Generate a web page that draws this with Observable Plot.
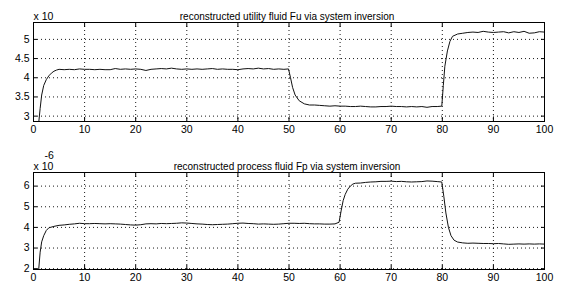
<!DOCTYPE html>
<html>
<head>
<meta charset="utf-8">
<script src="https://cdn.jsdelivr.net/npm/d3@7"></script>
<script src="https://cdn.jsdelivr.net/npm/@observablehq/plot@0.6"></script>
<style>
  html, body { margin: 0; padding: 0; background: #fff; }
  #chart { width: 564px; height: 291px; overflow: hidden; }
  #chart svg { display: block; }
</style>
</head>
<body>
<div id="chart"></div>
<script>
// ---- data ----
const xTicks = [0, 10, 20, 30, 40, 50, 60, 70, 80, 90, 100];

const fuTitle = "reconstructed utility fluid Fu via system inversion";
const fuTime = [1,1.3,1.6,2,2.5,3,3.5,4,4.5,5,6,7,8,9,10,11,12,13,14,15,16,17,18,19,20,21,22,23,24,25,26,27,28,29,30,31,32,33,34,35,36,37,38,39,40,41,42,43,44,45,46,47,48,49,49.9,50.3,50.7,51.2,52,53,54,55,56,57,58,59,60,61,62,63,64,65,66,67,68,69,70,71,72,73,74,75,76,77,78,79,79.9,80.2,80.5,81,81.5,82,83,84,85,86,87,88,89,90,91,92,93,94,95,96,97,98,99,100];
const fuValues = [2.8,3.2,3.55,3.8,3.95,4.05,4.12,4.17,4.2,4.22,4.21,4.22,4.21,4.23,4.22,4.22,4.21,4.22,4.21,4.21,4.24,4.22,4.23,4.22,4.23,4.22,4.19,4.22,4.23,4.24,4.23,4.25,4.23,4.22,4.23,4.22,4.23,4.22,4.23,4.24,4.22,4.23,4.22,4.22,4.21,4.23,4.24,4.23,4.25,4.23,4.24,4.22,4.23,4.22,4.23,4.0,3.75,3.55,3.4,3.32,3.29,3.29,3.28,3.27,3.26,3.27,3.26,3.26,3.25,3.25,3.26,3.25,3.24,3.24,3.25,3.25,3.26,3.25,3.25,3.24,3.25,3.24,3.25,3.23,3.25,3.25,3.26,3.8,4.3,4.7,4.95,5.08,5.14,5.16,5.18,5.19,5.18,5.21,5.19,5.18,5.19,5.2,5.17,5.2,5.18,5.21,5.16,5.17,5.2,5.19];
const fuYTicks = [3, 3.5, 4, 4.5, 5];
const fuYDomain = [2.86, 5.44];
const fuScaleLabel = "x 10";

const fpTitle = "reconstructed process fluid Fp via system inversion";
const fpTime = [1,1.3,1.6,2,2.5,3,4,5,6,7,8,9,10,11,12,13,14,15,16,17,18,19,20,21,22,23,24,25,26,27,28,29,30,31,32,33,34,35,36,37,38,39,40,41,42,43,44,45,46,47,48,49,50,51,52,53,54,55,56,57,58,59,59.8,60.2,60.6,61,61.5,62,62.5,63,64,65,66,67,68,69,70,71,72,73,74,75,76,77,78,79,79.9,80.3,80.7,81.2,81.7,82.3,83,84,85,86,87,88,89,90,91,92,93,94,95,96,97,98,99,100];
const fpValues = [1.9,2.8,3.3,3.6,3.85,3.98,4.05,4.1,4.12,4.15,4.17,4.2,4.18,4.18,4.19,4.18,4.17,4.18,4.17,4.16,4.14,4.12,4.11,4.13,4.17,4.18,4.17,4.19,4.18,4.19,4.2,4.22,4.21,4.19,4.17,4.16,4.14,4.13,4.14,4.15,4.16,4.18,4.2,4.21,4.19,4.18,4.16,4.17,4.16,4.15,4.16,4.18,4.2,4.2,4.19,4.2,4.18,4.17,4.17,4.16,4.16,4.17,4.25,4.8,5.3,5.6,5.85,6.0,6.1,6.14,6.15,6.18,6.2,6.21,6.23,6.23,6.24,6.22,6.23,6.21,6.2,6.21,6.22,6.25,6.24,6.22,6.2,5.5,4.7,4.0,3.6,3.38,3.29,3.25,3.23,3.24,3.23,3.22,3.22,3.21,3.22,3.2,3.18,3.19,3.2,3.19,3.2,3.19,3.2,3.19];
const fpYTicks = [2, 3, 4, 5, 6];
const fpYDomain = [1.96, 6.66];
const fpScaleLabel = "x 10";
const fpExponent = "-6";

// ---- drawing ----
const font = "'Liberation Sans', Arial, Helvetica, sans-serif";
const fmt = d => String(d);

function panel({time, values, yTicks, yDomain, title, scaleLabel, exponent, height, marginTop, marginBottom}) {
  const data = time.map((t, i) => ({t, v: values[i]}));
  const marks = [
    Plot.gridX(xTicks, {stroke: "#000", strokeOpacity: 0.9, strokeDasharray: "1,3"}),
    Plot.gridY(yTicks, {stroke: "#000", strokeOpacity: 0.9, strokeDasharray: "1,3"}),
    Plot.axisX(xTicks, {tickSize: 0, tickPadding: 4, fontSize: 10.5, fill: "#000", tickFormat: fmt}),
    Plot.axisY(yTicks, {tickSize: 0, tickPadding: 4, fontSize: 10.5, fill: "#000", tickFormat: fmt}),
    Plot.axisX(xTicks, {anchor: "top", tickSize: -4, text: null, label: null}),
    Plot.axisX(xTicks, {anchor: "bottom", tickSize: -4, text: null, label: null}),
    Plot.axisY(yTicks, {anchor: "left", tickSize: -4, text: null, label: null}),
    Plot.axisY(yTicks, {anchor: "right", tickSize: -4, text: null, label: null}),
    Plot.line(data, {x: "t", y: "v", stroke: "#111", strokeWidth: 1, clip: true}),
    Plot.frame({stroke: "#000", strokeWidth: 1}),
    Plot.text([title], {frameAnchor: "top", dy: -10, dx: -2, fontSize: 10, fill: "#000"}),
    Plot.text([scaleLabel], {frameAnchor: "top-left", textAnchor: "start", dy: -10, dx: 0, fontSize: 10.5, fill: "#000"})
  ];
  if (exponent) {
    marks.push(Plot.text([exponent], {frameAnchor: "top-left", textAnchor: "start", dy: -21, dx: 11, fontSize: 10.5, fill: "#000"}));
  }
  return Plot.plot({
    width: 564,
    height,
    marginLeft: 33,
    marginRight: 20,
    marginTop,
    marginBottom,
    style: {fontFamily: font, background: "#fff", color: "#000", overflow: "visible"},
    x: {domain: [0, 100], label: null},
    y: {domain: yDomain, label: null},
    marks
  });
}

const chart = document.getElementById("chart");
chart.append(panel({time: fuTime, values: fuValues, yTicks: fuYTicks, yDomain: fuYDomain, title: fuTitle, scaleLabel: fuScaleLabel, height: 145, marginTop: 22, marginBottom: 24}));
chart.append(panel({time: fpTime, values: fpValues, yTicks: fpYTicks, yDomain: fpYDomain, title: fpTitle, scaleLabel: fpScaleLabel, exponent: fpExponent, height: 146, marginTop: 27, marginBottom: 22}));
</script>
</body>
</html>
